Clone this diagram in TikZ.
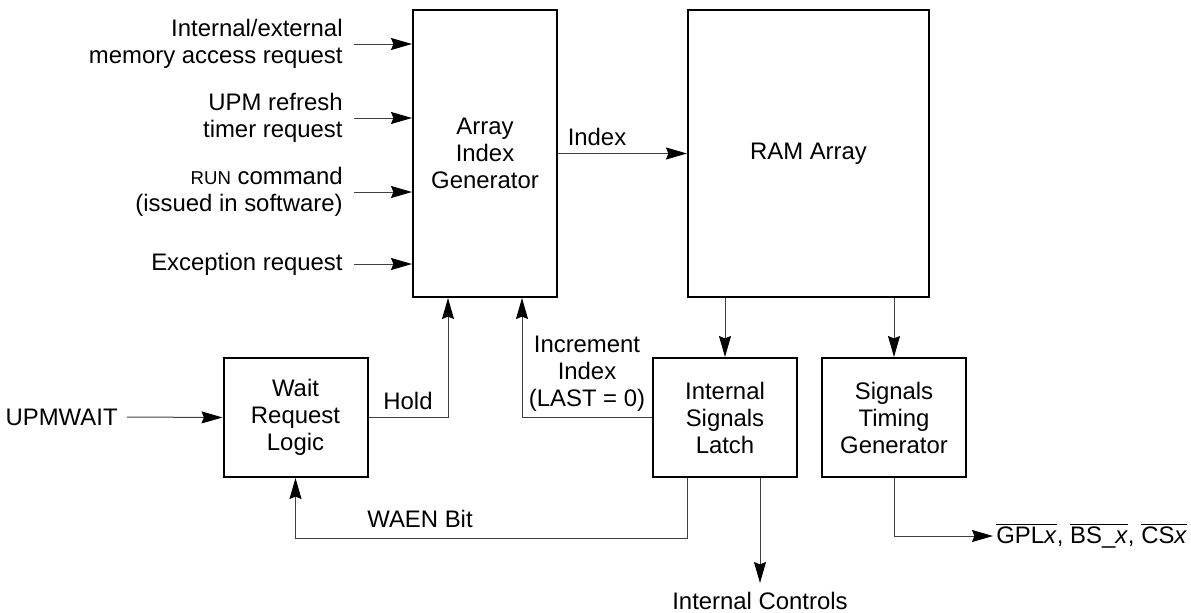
\documentclass[tikz,border=0pt]{standalone}
\usepackage{fontspec}
\setmainfont{Liberation Sans}
\usetikzlibrary{arrows.meta}
\begin{document}
\begin{tikzpicture}[x=0.5pt,y=-0.5pt,
  every node/.style={font=\fontsize{11.95}{13.5}\selectfont, align=center, inner sep=0pt},
  blk/.style={draw, line width=1pt, minimum width=72pt, minimum height=59.5pt},
  conn/.style={line width=0.5pt, draw=black!75, -{Stealth[length=10.5pt,width=6pt,inset=1.2pt,black]}}]
\useasboundingbox (0,0) rectangle (1191,612);
% blocks
\node[blk, minimum height=143.5pt] (aig) at (485,153.5) {Array\\Index\\Generator};
\node[blk, minimum width=120.5pt, minimum height=143.5pt] (ram) at (808.5,153.5) {RAM Array};
\node[blk] (wrl) at (295.5,417.5) {Wait\\Request\\Logic};
\node[blk] (isl) at (725,417.5) {Internal\\Signals\\Latch};
\node[blk] (stg) at (894,417.5) {Signals\\Timing\\Generator};
% input labels
\node[anchor=east, align=right] (in1) at (343,44) {Internal/external\\memory access request};
\node[anchor=east, align=right] (in2) at (343,118) {UPM refresh\\timer request};
\node[anchor=east, align=right] (in3) at (343,192) {{\fontsize{9.3}{13.5}\selectfont RUN} command\\(issued in software)};
\node[anchor=east, align=right] (in4) at (343,264) {Exception request};
\node[anchor=east] (upm) at (118,417) {UPMWAIT};
% other labels
\node (idx) at (597,137) {Index};
\node (hold) at (408,401) {Hold};
\node (inc) at (587,374) {Increment\\Index\\(LAST = 0)};
\node (waen) at (420,519) {WAEN Bit};
\node[anchor=north] (ic) at (760,592) {Internal Controls};
\node[anchor=west] (out) at (996,536) {$\overline{\hbox{GPL\textit{x}}}$, $\overline{\hbox{BS\_\textit{x}}}$, $\overline{\hbox{CS\textit{x}}}$};
% connectors
\draw[conn] ([xshift=5.5pt]in1.east) -- (in1.east -| aig.west);
\draw[conn] ([xshift=5.5pt]in2.east) -- (in2.east -| aig.west);
\draw[conn] ([xshift=5.5pt]in3.east) -- (in3.east -| aig.west);
\draw[conn] ([xshift=5.5pt]in4.east) -- (in4.east -| aig.west);
\draw[conn] (aig.east) -- (ram.west);
\draw[conn] (ram.south -| isl.north) -- (isl.north);
\draw[conn] (ram.south -| stg.north) -- (stg.north);
\draw[conn] ([xshift=4.5pt]upm.east) -- (wrl.west);
\draw[conn] (wrl.east) -| ([xshift=18pt]aig.south west);
\draw[conn] (isl.west) -| ([xshift=55pt]aig.south west);
\draw[conn] ([xshift=-19pt]isl.south) -- ++(0,60) -| (wrl.south);
\draw[conn, shorten >=4.5pt] ([xshift=17.5pt]isl.south) -- (ic.north);
\draw[conn, shorten >=1.5pt] (stg.south) |- (out.west);
\end{tikzpicture}
\end{document}
